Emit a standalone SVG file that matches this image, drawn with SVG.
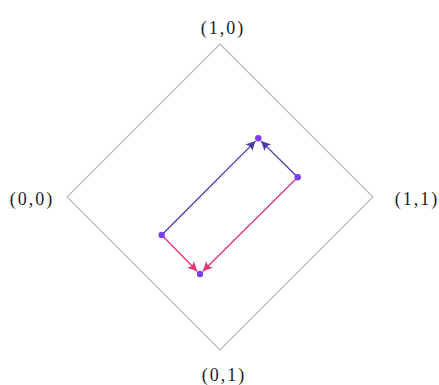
<svg xmlns="http://www.w3.org/2000/svg" width="439" height="385" viewBox="0 0 439 385">
<style>
.lbl{font-family:"Liberation Serif","DejaVu Serif",serif;font-size:18px;fill:#222;text-anchor:middle;letter-spacing:2px}
.frame{fill:none;stroke:#b5b5b5;stroke-width:1.1}
.blue{stroke:#4a3aa3;stroke-width:1.3;fill:none}
.pink{stroke:#e5337c;stroke-width:1.3;fill:none}
.dot{fill:#7b3cf5}
</style>
<defs>
<marker id="ab" markerUnits="userSpaceOnUse" markerWidth="12" markerHeight="12" viewBox="-9 -5 10 10" refX="0" refY="0" orient="auto">
<path d="M0,0 L-8,-4 Q-5,0 -8,4 Z" fill="#4a3aa3"/>
</marker>
<marker id="ap" markerUnits="userSpaceOnUse" markerWidth="12" markerHeight="12" viewBox="-9 -5 10 10" refX="0" refY="0" orient="auto">
<path d="M0,0 L-8,-4 Q-5,0 -8,4 Z" fill="#e5337c"/>
</marker>
</defs>
<g id="frame">
<path class="frame" d="M220,44 L373,197 L220,350 L67,197 Z"/>
</g>
<g id="labels">
<text class="lbl" x="223" y="34">(1,0)</text>
<text class="lbl" x="32" y="205">(0,0)</text>
<text class="lbl" x="417" y="205">(1,1)</text>
<text class="lbl" x="224" y="381">(0,1)</text>
</g>
<g id="connectors">
<line class="blue" x1="161.7" y1="235" x2="255.5" y2="141.1" marker-end="url(#ab)"/>
<line class="blue" x1="297.7" y1="177.3" x2="261.1" y2="141.1" marker-end="url(#ab)"/>
<line class="pink" x1="161.7" y1="235" x2="197.2" y2="271.2" marker-end="url(#ap)"/>
<line class="pink" x1="297.7" y1="177.3" x2="202.8" y2="271.2" marker-end="url(#ap)"/>
</g>
<g id="n_top"><circle class="dot" cx="258.3" cy="138.3" r="3.2"/></g>
<g id="n_right"><circle class="dot" cx="297.7" cy="177.3" r="3.2"/></g>
<g id="n_left"><circle class="dot" cx="161.7" cy="235" r="3.2"/></g>
<g id="n_bottom"><circle class="dot" cx="200" cy="274" r="3.2"/></g>
</svg>
